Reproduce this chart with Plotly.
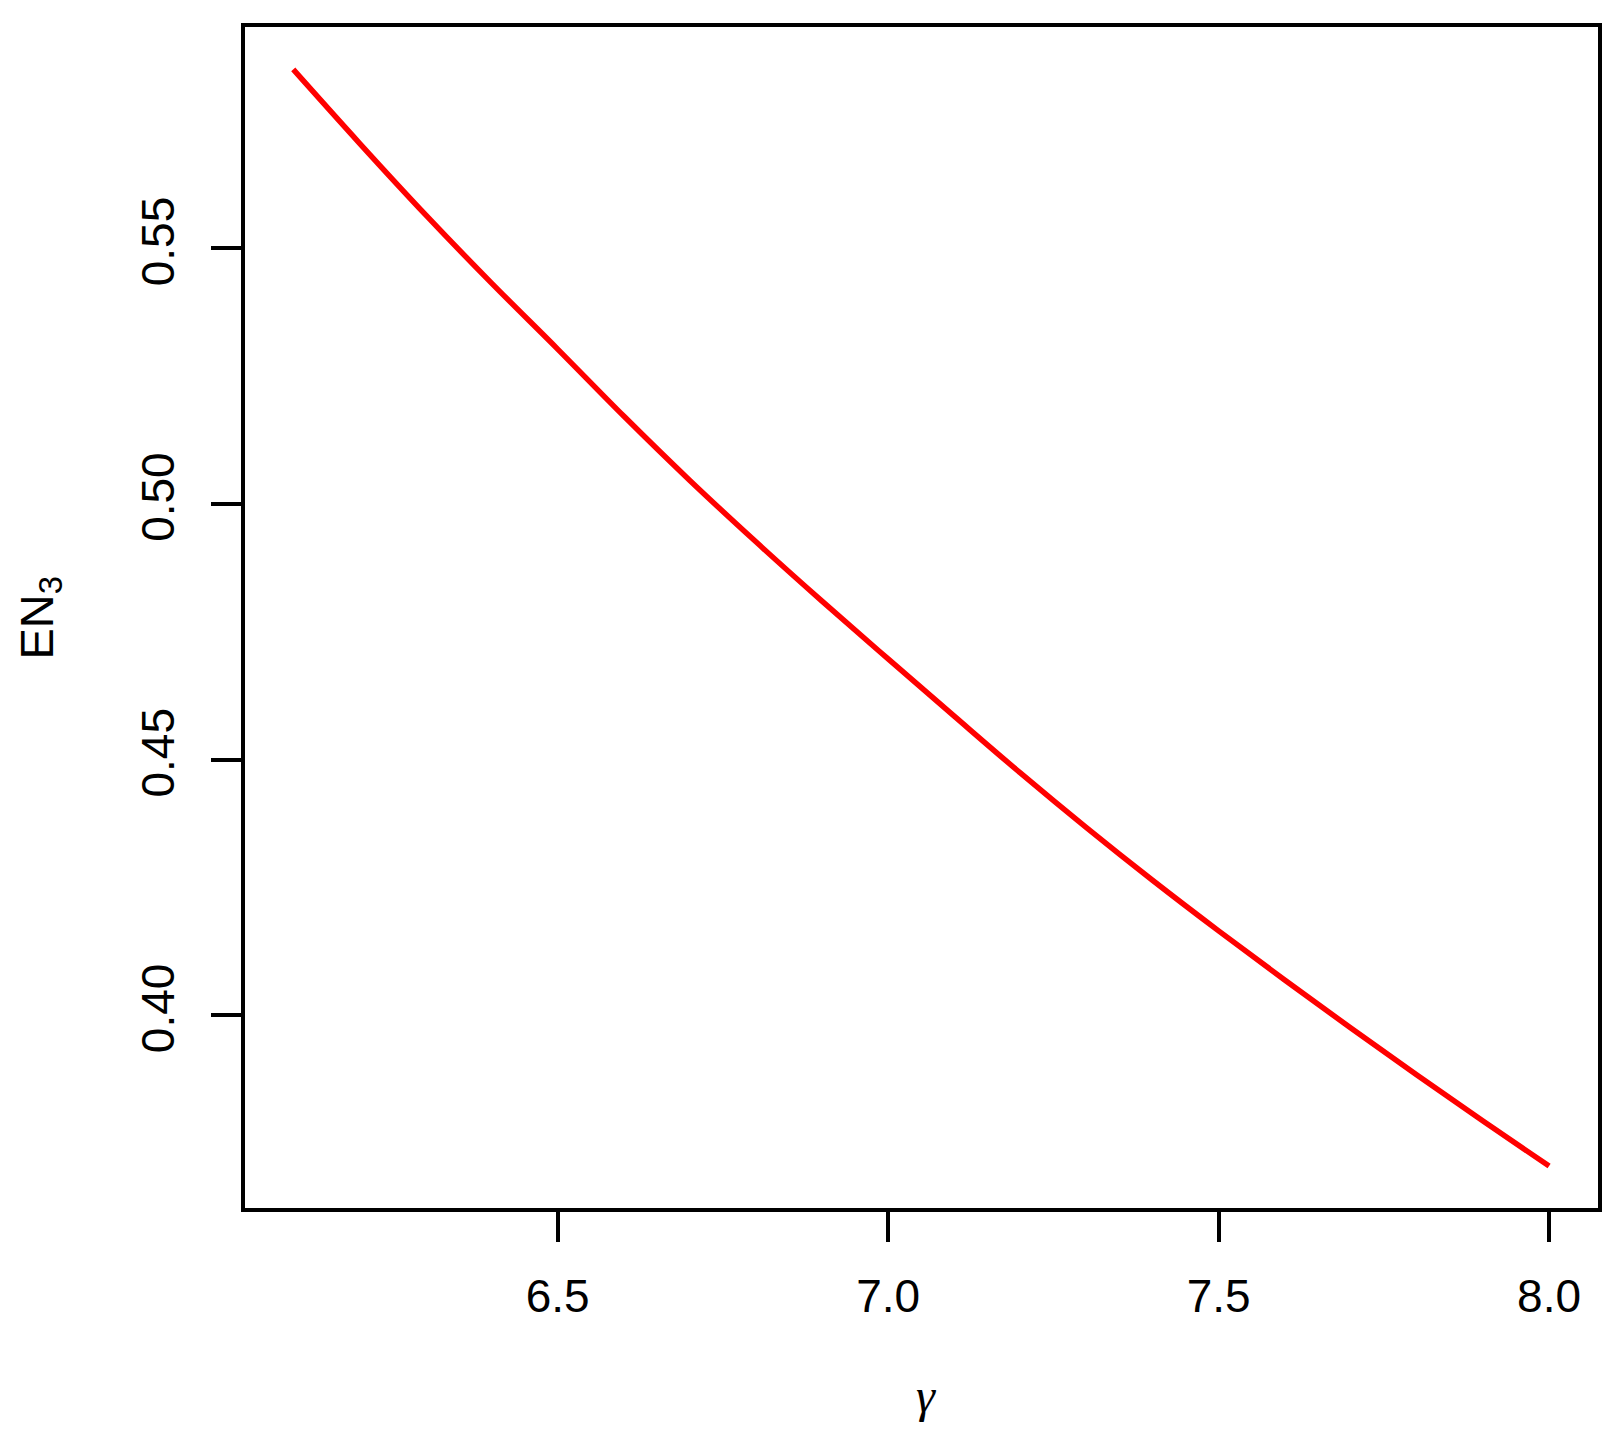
import plotly.graph_objects as go

# Data
gamma = [6.1, 6.2, 6.3, 6.4, 6.5, 6.6, 6.7, 6.8, 6.9, 7.0,
         7.1, 7.2, 7.3, 7.4, 7.5, 7.6, 7.7, 7.8, 7.9, 8.0]
en3 = [0.5850, 0.5706, 0.5566, 0.5432, 0.5303, 0.5172, 0.5046, 0.4926, 0.4810, 0.4697,
       0.4585, 0.4474, 0.4367, 0.4264, 0.4165, 0.4069, 0.3975, 0.3883, 0.3793, 0.3705]

x_tickvals = [6.5, 7.0, 7.5, 8.0]
x_ticktext = ["6.5", "7.0", "7.5", "8.0"]
y_tickvals = [0.40, 0.45, 0.50, 0.55]
y_ticktext = ["0.40", "0.45", "0.50", "0.55"]

W, H = 1623, 1443
# page body adds an 8px offset; margins compensate
L, R, T, B = 237, 33, 19, 243

fig = go.Figure()
fig.add_trace(go.Scatter(x=gamma, y=en3, mode="lines",
                         line=dict(color="#ff0000", width=5.5, shape="spline"),
                         showlegend=False, hoverinfo="skip"))

font = dict(family="Liberation Sans, Arial, sans-serif", size=46, color="black")

fig.update_layout(
    width=W, height=H,
    margin=dict(l=L, r=R, t=T, b=B, pad=0),
    paper_bgcolor="white", plot_bgcolor="white",
    font=font,
    xaxis=dict(range=[6.027, 8.074], tickvals=x_tickvals, ticktext=x_ticktext,
               ticks="outside", ticklen=30, tickwidth=4, tickcolor="black",
               showline=True, linecolor="black", linewidth=4, mirror=True,
               showgrid=False, zeroline=False, tickfont=font,
               ticklabelstandoff=15),
    yaxis=dict(range=[0.3623, 0.5933], tickvals=y_tickvals, ticktext=y_ticktext,
               ticks="outside", ticklen=30, tickwidth=4, tickcolor="black",
               showline=True, linecolor="black", linewidth=4, mirror=True,
               showgrid=False, zeroline=False, tickfont=font, tickangle=-90,
               ticklabelstandoff=19),
    annotations=[
        dict(text="<i>γ</i>", xref="paper", yref="paper", x=0.5, y=0,
             xanchor="center", yanchor="middle", yshift=-187, xshift=4, showarrow=False,
             font=dict(family="Liberation Serif, Times New Roman, serif", size=48, color="black")),
        dict(text="EN<sub>3</sub>", xref="paper", yref="paper", x=0, y=0.5,
             xanchor="center", yanchor="middle", xshift=-206, textangle=-90,
             showarrow=False, font=dict(family="Liberation Sans, Arial, sans-serif", size=47, color="black")),
    ],
)

fig.write_html("out.html")
